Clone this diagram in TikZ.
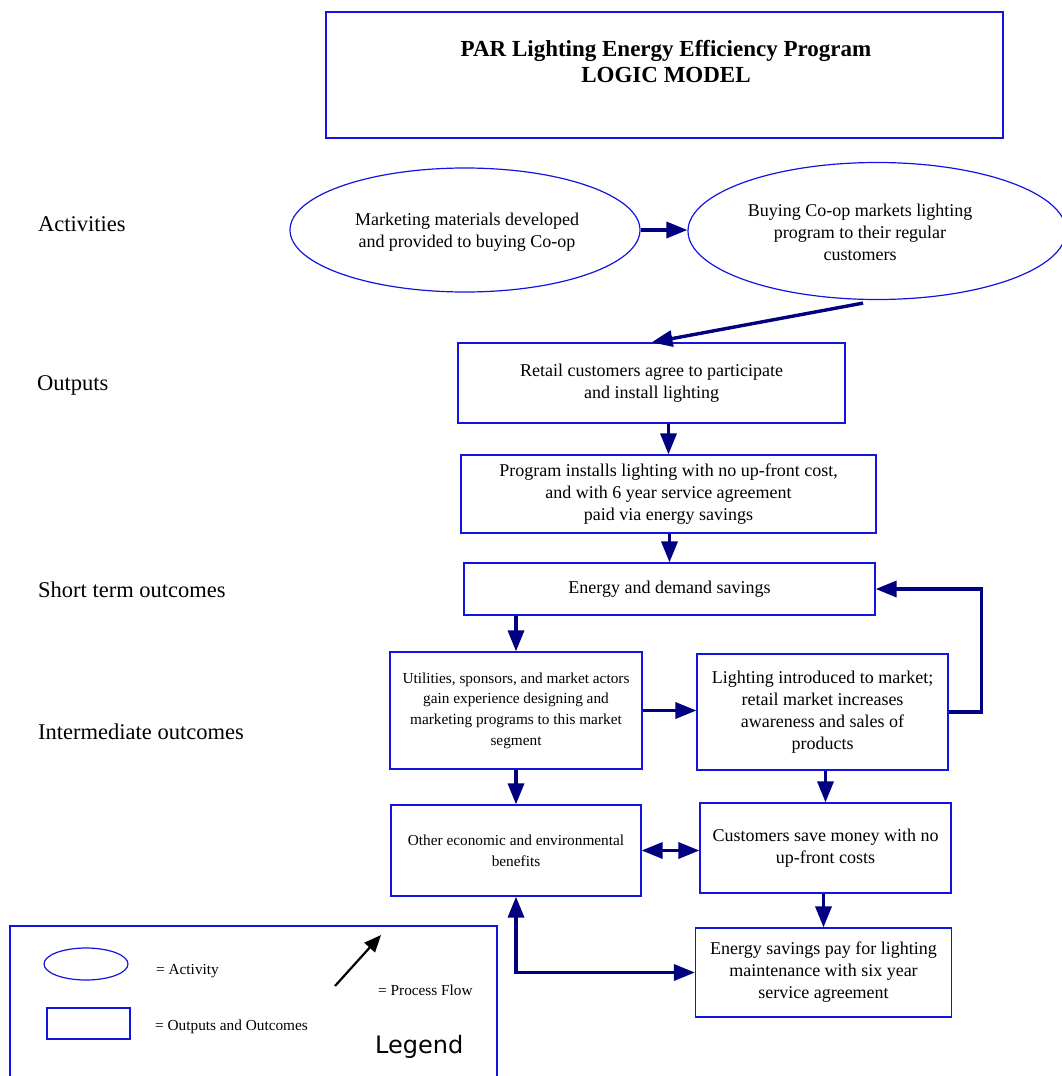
\documentclass[tikz,border=0pt]{standalone}
\usepackage{fontspec}
\setmainfont{Liberation Serif}
\newfontfamily\legendfont{DejaVu Sans}
\usetikzlibrary{arrows.meta,shapes.geometric,calc}

\definecolor{boxblue}{RGB}{20,20,225}
\definecolor{flownavy}{RGB}{0,0,128}

\tikzset{
  box/.style={draw=boxblue, line width=1.2pt, rectangle, inner sep=0pt, align=center,
              font=\fontsize{18}{22}\selectfont},
  smallbox/.style={box, font=\fontsize{15.3}{20.7}\selectfont},
  activity/.style={draw=boxblue, line width=1.2pt, ellipse, inner sep=0pt},
  bodytext/.style={align=center, inner sep=0pt, font=\fontsize{18}{22}\selectfont},
  rowlabel/.style={anchor=west, inner sep=0pt, font=\fontsize{22.5}{26}\selectfont},
  legendtext/.style={anchor=west, inner sep=0pt, font=\fontsize{15.3}{18}\selectfont},
  flow/.style={draw=flownavy, line width=3.4pt,
               -{Triangle[length=21pt,width=16pt]}},
  flowboth/.style={draw=flownavy, line width=3.4pt,
               {Triangle[length=21pt,width=16pt]}-{Triangle[length=21pt,width=16pt]}},
}

\begin{document}
\begin{tikzpicture}[x=1pt,y=-1pt]
\useasboundingbox (0,0) rectangle (1062,1076);
\clip (0,0) rectangle (1062,1076);

% title
\node[draw=boxblue, line width=1.2pt, minimum width=677, minimum height=126, inner sep=0pt]
  (title) at (664.5,75) {};
\node[align=center, inner sep=0pt, font=\fontsize{23}{26}\selectfont\bfseries]
  (titletext) at (666,62) {PAR Lighting Energy Efficiency Program\\LOGIC MODEL};

% row labels
\node[rowlabel] (lact) at (38,224) {Activities};
\node[rowlabel] (lout) at (37,385) {Outputs};
\node[rowlabel] (lshort) at (38,590) {Short term outcomes};
\node[rowlabel] (linter) at (38,732) {Intermediate outcomes};

% activities
\node[activity, minimum width=350, minimum height=124] (e1) at (465,230) {};
\node[bodytext] (e1t) at (467,232) {Marketing materials developed\\and provided to buying Co-op};
\node[activity, minimum width=378, minimum height=137] (e2) at (877,231) {};
\node[bodytext] (e2t) at (860,232) {Buying Co-op markets lighting\\program to their regular\\customers};

% outputs and outcomes
\node[box, minimum width=387, minimum height=80] (b1) at (651.5,383)
  {Retail customers agree to participate\\and install lighting};
\node[box, minimum width=415, minimum height=78] (b2) at (668.5,494)
  {Program installs lighting with no up-front cost,\\and with 6 year service agreement\\paid via energy savings};
\node[box, minimum width=411, minimum height=52] (b3) at (669.5,589)
  {Energy and demand savings};
\node[smallbox, minimum width=252, minimum height=117] (b4) at (516,710.5)
  {Utilities, sponsors, and market actors\\gain experience designing and\\marketing programs to this market\\segment};
\node[box, minimum width=251, minimum height=116] (b5) at (822.5,712)
  {Lighting introduced to market;\\retail market increases\\awareness and sales of\\products};
\node[smallbox, minimum width=250, minimum height=91] (b6) at (516,850.5)
  {Other economic and environmental\\benefits};
\node[box, minimum width=251, minimum height=90] (b7) at (825.5,848)
  {Customers save money with no\\up-front costs};
\node[box, minimum width=256, minimum height=89] (b8) at (823.5,972.5)
  {Energy savings pay for lighting\\maintenance with six year\\service agreement};

% process flow
\draw[flow] (e1.east) -- (e1.east -| e2.west);
\draw[flow] ($(e2.south)+(-14,3)$) -- (b1.north);
\draw[flow] (b1.south -| b2.north) -- (b2.north);
\draw[flow] (b2.south -| b3.north) -- (b3.north);
\draw[flow] (b3.south -| b4.north) -- (b4.north);
\draw[flow] (b4.east) -- (b4.east -| b5.west);
\draw[flow] (b5.east) -- ++(33,0) |- (b3.east);
\draw[flow] (b4.south) -- (b6.north);
\draw[flow] (b5.south -| b7.north) -- (b7.north);
\draw[flowboth] (b6.east) -- (b6.east -| b7.west);
\draw[flow] (b7.south -| b8.north) -- (b8.north);
\draw[flowboth] (b6.south) |- (b8.west);

% legend
\node[draw=boxblue, line width=1.2pt, minimum width=487, minimum height=170, inner sep=0pt]
  (legend) at (253.5,1011) {};
\node[activity, minimum width=84, minimum height=32] (legell) at (86,964) {};
\node[legendtext] (legact) at (156,971) {= Activity};
\node[draw=boxblue, line width=1.2pt, minimum width=83, minimum height=31, inner sep=0pt]
  (legbox) at (88.5,1023.5) {};
\node[legendtext] (legout) at (155,1027) {= Outputs and Outcomes};
\coordinate (legarrowtail) at (335,986);
\coordinate (legarrowhead) at (381,935);
\draw[line width=2.2pt, -{Triangle[length=17pt,width=14pt]}] (legarrowtail) -- (legarrowhead);
\node[legendtext] (legflow) at (378,990) {= Process Flow};
\node[anchor=west, inner sep=0pt, font=\fontsize{24}{28}\selectfont\legendfont] (legtitle) at (375,1047) {Legend};
\end{tikzpicture}
\end{document}
